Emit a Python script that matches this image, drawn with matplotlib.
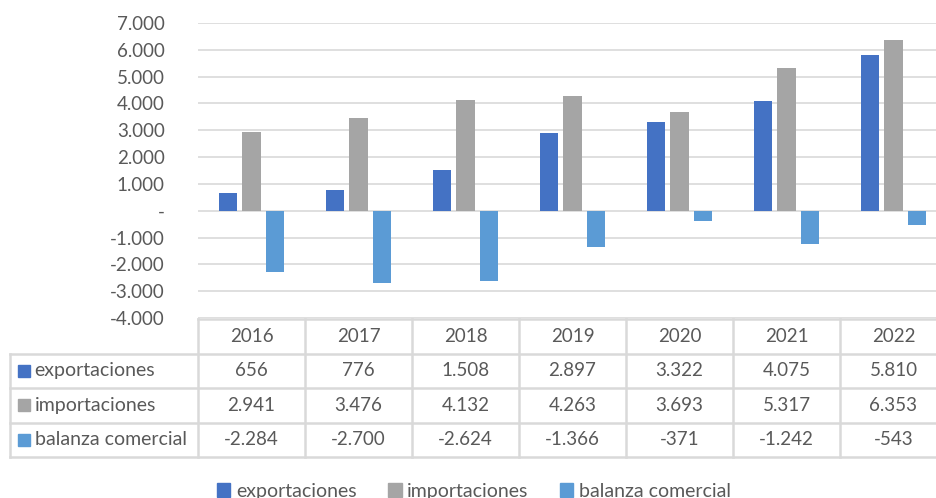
import numpy as np
import matplotlib.pyplot as plt
from matplotlib.patches import Rectangle

plt.rcParams['font.family'] = ['Lato', 'DejaVu Sans']

years = ['2016', '2017', '2018', '2019', '2020', '2021', '2022']
exportaciones = [656, 776, 1508, 2897, 3322, 4075, 5810]
importaciones = [2941, 3476, 4132, 4263, 3693, 5317, 6353]
balanza = [-2284, -2700, -2624, -1366, -371, -1242, -543]
series_names = ['exportaciones', 'importaciones', 'balanza comercial']
yticks = [-4000, -3000, -2000, -1000, 0, 1000, 2000, 3000, 4000, 5000, 6000, 7000]

colors = ['#4472C4', '#A5A5A5', '#5B9BD5']
text_col = '#595959'
grid_col = '#D9D9D9'
fs_num = 13.5
fs_txt = 14


def fmt(v):
    if v == 0:
        return '-'
    return f'{v:,}'.replace(',', '.')


W, H = 937, 498
fig = plt.figure(figsize=(W / 100, H / 100), dpi=100)

# plot area in pixels (right edge runs past the picture, like the source)
x0, x1 = 198, 947
y_top, y_bot = 23, 318
ax = fig.add_axes([x0 / W, 1 - y_bot / H, (x1 - x0) / W, (y_bot - y_top) / H])

x = np.arange(len(years))
series = [exportaciones, importaciones, balanza]
bw, step = 0.17, 0.22
for i, (vals, c) in enumerate(zip(series, colors)):
    ax.bar(x + (i - 1) * step, vals, width=bw, color=c, zorder=3)

ax.set_xlim(-0.5, len(years) - 0.5)
ax.set_ylim(yticks[0], yticks[-1])
ax.set_yticks(yticks)
ax.set_yticklabels([fmt(t) for t in yticks])
ax.tick_params(axis='y', length=0, pad=24, labelsize=fs_num, labelcolor=text_col)
ax.set_xticks([])
for t in yticks:
    ax.axhline(t, color=grid_col, lw=1.2, zorder=1)
for s in ax.spines.values():
    s.set_visible(False)

# data table below the plot
t_top, t_bot = 319, 457
tab = fig.add_axes([x0 / W, 1 - t_bot / H, (x1 - x0) / W, (t_bot - t_top) / H])
tab.set_xlim(-0.5, len(years) - 0.5)
tab.set_ylim(0, 4)
tab.axis('off')
xl = -0.5 - (x0 - 10) / ((x1 - x0) / len(years))

lk = dict(color=grid_col, lw=1.8, clip_on=False)
tab.plot([-0.5, len(years) - 0.5], [4, 4], **lk)
for r in range(4):
    tab.plot([xl, len(years) - 0.5], [r, r], **lk)
tab.plot([xl, xl], [0, 3], **lk)
for c in range(len(years) + 1):
    tab.plot([c - 0.5, c - 0.5], [0, 4], **lk)

for j, yr in enumerate(years):
    tab.text(j, 3.5, yr, ha='center', va='center', fontsize=fs_num, color=text_col)

for r, (name, vals, c) in enumerate(zip(series_names, series, colors)):
    yc = 2.5 - r
    tab.add_patch(Rectangle((xl + 0.075, yc - 0.17), 0.11, 0.34, color=c, clip_on=False))
    tab.text(xl + 0.23, yc, name, ha='left', va='center', fontsize=fs_txt, color=text_col)
    for j, v in enumerate(vals):
        tab.text(j, yc, fmt(v), ha='center', va='center', fontsize=fs_num, color=text_col)

handles = [Rectangle((0, 0), 1, 1, color=c) for c in colors]
fig.legend(handles, series_names, loc='center', bbox_to_anchor=(474 / W, 1 - 491 / H),
           ncol=3, frameon=False, fontsize=fs_txt, labelcolor=text_col,
           handlelength=0.7, handleheight=0.7, handletextpad=0.3, columnspacing=1.6)

fig.savefig('out.png', dpi=100)
